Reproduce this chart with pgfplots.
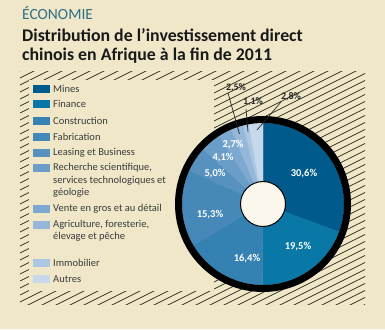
\documentclass[border=0pt]{standalone}
\usepackage{pgfplots}
\usepackage{pgfplotstable}
\pgfplotsset{compat=1.18}
\usepackage{fontspec}
\setmainfont{Carlito}
\definecolor{bg}{HTML}{EFE7C8}
\definecolor{hatch}{HTML}{3A3828}
\definecolor{hole}{HTML}{FBF7EC}
\definecolor{teal}{HTML}{2E6F88}
\definecolor{legtxt}{HTML}{3A3A3A}
\definecolor{slice0}{HTML}{005A8C}
\definecolor{slice1}{HTML}{0A78A6}
\definecolor{slice2}{HTML}{3582B2}
\definecolor{slice3}{HTML}{4689B8}
\definecolor{slice4}{HTML}{5691C0}
\definecolor{slice5}{HTML}{6A9DC8}
\definecolor{slice6}{HTML}{7DA9D0}
\definecolor{slice7}{HTML}{95B8DA}
\definecolor{slice8}{HTML}{ACC7E2}
\definecolor{slice9}{HTML}{C7D8EB}

% Distribution (%), in order, clockwise from top
\pgfplotstableread{
idx v
0 30.6
1 19.5
2 16.4
3 15.3
4 5.0
5 4.1
6 2.7
7 2.5
8 1.1
9 2.8
}\pietable
\pgfplotstablecreatecol[create col/expr accum={\pgfmathaccuma + \thisrow{v}}{0}]{cum}\pietable

\begin{document}
\begin{tikzpicture}[x=1pt,y=1pt]
% background
\fill[bg] (0,0) rectangle (385,329);
% hatched panel
\begin{scope}
\clip (20,25) rectangle (365,257);
\foreach \k in {0,...,62} \draw[hatch, line width=0.7pt] (0,-165+\k*7) -- ++(400,200);
\end{scope}
\fill[bg] (29,38) rectangle (214,249);

\begin{axis}[at={(0pt,0pt)}, anchor=south west, x=1pt, y=1pt,
  xmin=0, xmax=385, ymin=0, ymax=329, hide axis, clip=false]

% slices
\pgfplotsinvokeforeach{0,...,9}{
  \pgfplotstablegetelem{#1}{v}\of\pietable \let\pv\pgfplotsretval
  \pgfplotstablegetelem{#1}{cum}\of\pietable \let\pc\pgfplotsretval
  \pgfmathsetmacro\angA{90-3.6*(\pc-\pv)}
  \pgfmathsetmacro\angB{90-3.6*\pc}
  \edef\doslice{\noexpand\fill[slice#1, draw=slice#1, line width=0.3pt] (axis cs:263,125) -- ++(\angA:81pt) arc[start angle=\angA, end angle=\angB, radius=81pt] -- cycle;}
  \doslice
}
\draw[black, line width=7pt] (axis cs:263,125) circle[radius=84.5pt];
\draw[black, fill=hole, line width=1pt] (axis cs:263,125) circle[radius=22.5pt];

% inner labels
\begin{scope}[every node/.style={font=\bfseries\fontsize{10.5}{12}\selectfont, text=white, inner sep=0pt}]
\node at (axis cs:304,155) {30,6\%};
\node at (axis cs:298,82) {19,5\%};
\node at (axis cs:247,70) {16,4\%};
\node at (axis cs:210,114) {15,3\%};
\node at (axis cs:215,155) {5,0\%};
\node at (axis cs:223,171) {4,1\%};
\node at (axis cs:233,184) {2,7\%};
\end{scope}

% outer labels with leaders
\draw[black!85, line width=0.7pt] (axis cs:228,236) -- (axis cs:239.5,195);
\draw[black!85, line width=0.7pt] (axis cs:246,220) -- (axis cs:248,197);
\draw[black!85, line width=0.7pt] (axis cs:281,227) -- (axis cs:257,199);
\begin{scope}[every node/.style={font=\bfseries\fontsize{10}{12}\selectfont, text=black!85, inner sep=0pt}]
\node at (axis cs:236,241) {2,5\%};
\node at (axis cs:253,227) {1,1\%};
\node at (axis cs:291,232) {2,8\%};
\end{scope}

% legend
\begin{scope}[every node/.style={font=\fontsize{10.5}{12}\selectfont, text=legtxt, anchor=west, inner sep=0pt}]
\fill[slice0] (axis cs:33,236) rectangle (axis cs:50,244);
\node at (axis cs:53,240) {Mines};
\fill[slice1] (axis cs:33,221) rectangle (axis cs:50,229);
\node at (axis cs:53,225) {Finance};
\fill[slice2] (axis cs:33,204) rectangle (axis cs:50,212);
\node at (axis cs:53,208) {Construction};
\fill[slice3] (axis cs:33,188) rectangle (axis cs:50,196);
\node at (axis cs:53,192) {Fabrication};
\fill[slice4] (axis cs:33,172) rectangle (axis cs:50,180);
\node at (axis cs:53,176) {Leasing et Business};
\fill[slice5] (axis cs:33,157) rectangle (axis cs:50,165);
\node at (axis cs:53,161) {Recherche scientifique,};
\node at (axis cs:53,148.5) {services technologiques et};
\node at (axis cs:53,136) {géologie};
\fill[slice6] (axis cs:33,116) rectangle (axis cs:50,124);
\node at (axis cs:53,120) {Vente en gros et au détail};
\fill[slice7] (axis cs:33,100) rectangle (axis cs:50,108);
\node at (axis cs:53,104) {Agriculture, foresterie,};
\node at (axis cs:53,92.5) {élevage et pêche};
\fill[slice8] (axis cs:33,62) rectangle (axis cs:50,70);
\node at (axis cs:53,66) {Immobilier};
\fill[slice9] (axis cs:33,46) rectangle (axis cs:50,54);
\node at (axis cs:53,50) {Autres};
\end{scope}

% titles
\node[anchor=base west, inner sep=0pt, text=teal, font=\fontsize{15.5}{17}\selectfont] at (axis cs:22,309) {ÉCONOMIE};
\node[anchor=base west, inner sep=0pt, text=black!90, font=\bfseries\fontsize{17.8}{20}\selectfont] at (axis cs:22,287) {Distribution de l’investissement direct};
\node[anchor=base west, inner sep=0pt, text=black!90, font=\bfseries\fontsize{17.8}{20}\selectfont] at (axis cs:22,268) {chinois en Afrique à la fin de 2011};
\end{axis}
\end{tikzpicture}
\end{document}
